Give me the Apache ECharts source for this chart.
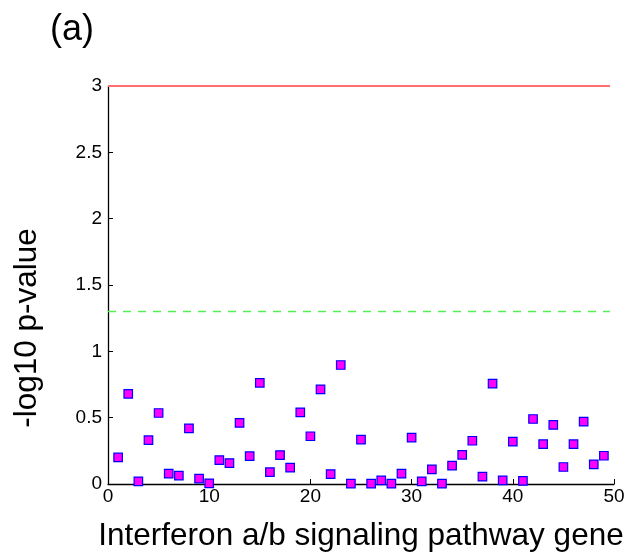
<!DOCTYPE html>
<html>
<head>
<meta charset="utf-8">
<script src="https://cdn.jsdelivr.net/npm/echarts@6/dist/echarts.min.js"></script>
<style>html,body{margin:0;padding:0;background:#fff}#c{width:631px;height:560px}</style>
</head>
<body>
<div id="c"></div>
<script>
var geneIndex = [1,2,3,4,5,6,7,8,9,10,11,12,13,14,15,16,17,18,19,20,21,22,23,24,25,26,27,28,29,30,31,32,33,34,35,36,37,38,39,40,41,42,43,44,45,46,47,48,49];
var pValues = [0.20,0.68,0.02,0.33,0.535,0.078,0.063,0.42,0.04,0.005,0.18,0.158,0.46,0.21,0.763,0.09,0.218,0.123,0.54,0.36,0.713,0.075,0.897,0.003,0.334,0.003,0.027,0.003,0.078,0.35,0.02,0.11,0.003,0.138,0.22,0.326,0.055,0.756,0.027,0.319,0.023,0.49,0.30,0.445,0.128,0.30,0.47,0.148,0.213];
var yTicks = [0,0.5,1,1.5,2,2.5,3];
var xTicks = [0,10,20,30,40,50];
var thresholdHigh = 3;
var thresholdLow = 1.3;
var lineEnd = 49.6;

var pts = geneIndex.map(function(g,i){return [g,pValues[i]];});
var font = 'Liberation Sans, Arial, Helvetica, sans-serif';
var chart = echarts.init(document.getElementById('c'));
chart.setOption({
  animation:false,
  grid:{left:108,right:17,top:86,bottom:76,containLabel:false},
  xAxis:{type:'value',min:0,max:50,interval:10,
    name:'Interferon a/b signaling pathway gene',nameLocation:'middle',nameGap:36,
    nameTextStyle:{fontSize:31.5,color:'#000',fontFamily:font},
    axisLine:{lineStyle:{color:'#000',width:1.3}},
    axisTick:{inside:true,length:5,lineStyle:{color:'#000'}},
    axisLabel:{fontSize:19,color:'#000',fontFamily:font,margin:3},
    splitLine:{show:false}},
  yAxis:{type:'value',min:0,max:3,interval:0.5,
    axisLine:{show:true,lineStyle:{color:'#000',width:1.3}},
    axisTick:{show:true,inside:true,length:5,lineStyle:{color:'#000'}},
    axisLabel:{fontSize:19,color:'#000',fontFamily:font,margin:6},
    splitLine:{show:false}},
  graphic:[
    {type:'text',left:50,top:12,style:{text:'(a)',fontSize:36,fill:'#000',fontFamily:font}},
    {type:'text',x:27,y:328,rotation:Math.PI/2,style:{text:'-log10 p-value',fontSize:31.5,fill:'#000',fontFamily:font,align:'center',verticalAlign:'middle'}}
  ],
  series:[
    {type:'line',data:[[0,thresholdHigh],[lineEnd,thresholdHigh]],symbol:'none',lineStyle:{color:'#ff6f6f',width:2},z:1},
    {type:'line',data:[[0,thresholdLow],[lineEnd,thresholdLow]],symbol:'none',lineStyle:{color:'#55ee55',width:1.5,type:[8,7]},z:1},
    {type:'scatter',data:pts,symbol:'rect',symbolSize:8.5,itemStyle:{color:'#ff00ff',borderColor:'#0000ff',borderWidth:1.2,opacity:1},z:3}
  ]
});
</script>
</body>
</html>
